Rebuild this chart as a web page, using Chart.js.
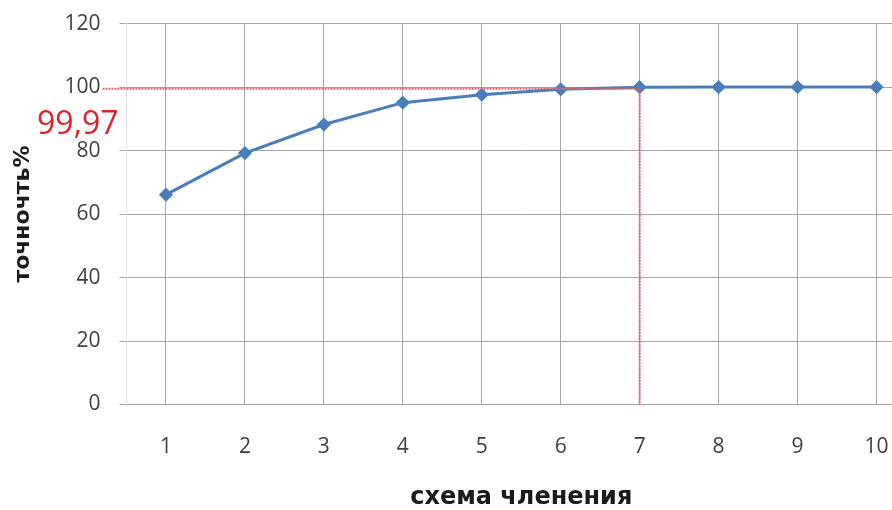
<!DOCTYPE html>
<html lang="ru">
<head>
    <meta charset="UTF-8">
    <title>точночть%</title>
    <script src="https://cdn.jsdelivr.net/npm/chart.js"></script>
    <style>
        html, body {
            margin: 0;
            padding: 0;
            background-color: white;
            overflow: hidden;
        }
        #wrap {
            width: 924px;
            height: 518px;
            margin-top: -8px;
        }
    </style>
</head>
<body>
    <div id="wrap">
        <canvas id="accuracyChart"></canvas>
    </div>

    <script>
        // chart data
        const schemes = ['1', '2', '3', '4', '5', '6', '7', '8', '9', '10'];
        const accuracy = [66.1, 79.2, 88.2, 95.1, 97.6, 99.3, 99.97, 100, 100, 100];
        const yTicks = [0, 20, 40, 60, 80, 100, 120];

        // red marker for the chosen scheme
        const markIndex = 6;
        const markValue = 99.97;
        const markText = '99,97';

        const markerLines = {
            id: 'markerLines',
            afterDatasetsDraw(chart) {
                const ctx = chart.ctx;
                const x = chart.scales.x;
                const y = chart.scales.y;
                const px = x.getPixelForValue(markIndex);
                const py = y.getPixelForValue(markValue);
                ctx.save();
                ctx.strokeStyle = '#e6606c';
                ctx.lineWidth = 2;
                ctx.setLineDash([2, 1]);
                ctx.beginPath();
                ctx.moveTo(chart.chartArea.left - 24, py + 1.5);
                ctx.lineTo(px, py + 1.5);
                ctx.moveTo(px, py + 1.5);
                ctx.lineTo(px, y.getPixelForValue(0));
                ctx.stroke();
                ctx.setLineDash([]);
                ctx.fillStyle = '#e0202a';
                ctx.font = '32px "Open Sans", sans-serif';
                ctx.textAlign = 'right';
                ctx.textBaseline = 'middle';
                ctx.fillText(markText, chart.chartArea.left - 8, py + 38);
                ctx.restore();
            }
        };

        new Chart(document.getElementById('accuracyChart'), {
            type: 'line',
            data: {
                labels: schemes,
                datasets: [{
                    data: accuracy,
                    borderColor: '#4a7ebb',
                    backgroundColor: '#4a7ebb',
                    borderWidth: 3,
                    pointStyle: 'rectRot',
                    pointRadius: 5,
                    tension: 0
                }]
            },
            options: {
                responsive: true,
                maintainAspectRatio: false,
                animation: false,
                layout: { padding: { top: 16, right: 0, left: 0, bottom: 0 } },
                plugins: {
                    legend: { display: false },
                    tooltip: { enabled: false }
                },
                scales: {
                    x: {
                        offset: true,
                        grid: { offset: false, color: '#a6a6a6', drawTicks: false },
                        border: { color: '#a6a6a6' },
                        ticks: {
                            color: '#404040',
                            padding: 30,
                            font: { family: 'Open Sans', size: 21 }
                        },
                        title: {
                            display: true,
                            text: 'схема членения',
                            color: '#1a1a1a',
                            font: { family: 'DejaVu Sans', size: 24, weight: 'bold', lineHeight: 1 },
                            padding: { top: 0, bottom: 0 }
                        },
                        afterFit(scale) { scale.height = 105.5; }
                    },
                    y: {
                        min: 0,
                        max: 120,
                        afterBuildTicks(scale) { scale.ticks = yTicks.map(v => ({ value: v })); },
                        grid: { color: '#a6a6a6', tickLength: 7 },
                        border: { color: '#e0e0e0' },
                        ticks: {
                            color: '#404040',
                            padding: 19,
                            font: { family: 'Open Sans', size: 21 }
                        },
                        title: {
                            display: true,
                            text: 'точночть%',
                            color: '#1a1a1a',
                            font: { family: 'DejaVu Sans', size: 22, weight: 'bold', lineHeight: 1 },
                            padding: { top: 12, bottom: 0 }
                        },
                        afterFit(scale) { scale.width = 126.5; }
                    }
                }
            },
            plugins: [markerLines]
        });
    </script>
</body>
</html>
